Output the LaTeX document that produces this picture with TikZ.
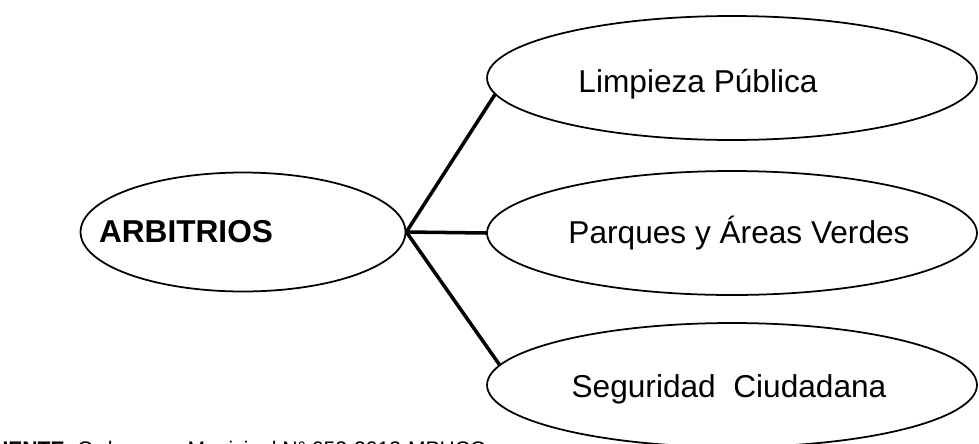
\documentclass[tikz,border=0pt]{standalone}
\usepackage{fontspec}
\setmainfont{Liberation Sans}
\usepackage{tikz}
\usetikzlibrary{shapes.geometric, positioning}
\tikzstyle{oval} = [ellipse, 
draw=black, 
line width=1pt, 
inner sep=0pt, 
minimum width=9.8cm, 
minimum height=2.48cm]
\tikzstyle{rama} = [line width=2pt, line cap=round]
\tikzstyle{texto} = [font=\fontsize{18}{22}\selectfont, inner sep=0pt, anchor=base]

\begin{document}
\begin{tikzpicture}[x=0.02cm, y=-0.02cm]
	% marco en pixeles del original
	\useasboundingbox (0,0) rectangle (979,443);
	\clip (0,0) rectangle (979,443);
	
	% ---- 1. Nodo central ----
	\node[oval, minimum width=6.5cm, minimum height=2.38cm] (arb) at (243,232) {};
	\node[texto, font=\fontsize{18}{22}\selectfont\bfseries] (tarb) at (186,242) {ARBITRIOS};
	
	% ---- 2. Ramas ----
	\node[oval] (limp) at (732,78) {};
	\node[oval] (parq) at (732,233) {};
	\node[oval] (seg) at (732,385) {};
	
	\node[texto] (tlimp) at (698,92) {Limpieza Pública};
	\node[texto] (tparq) at (739,243) {Parques y Áreas Verdes};
	\node[texto] (tseg) at (729,397) {Seguridad\ \ Ciudadana};
	
	% conectores
	\draw[rama] (arb.east) -- (limp.184);
	\draw[rama] (arb.east) -- (parq.west);
	\draw[rama] (arb.east) -- (seg.175);
	
	% ---- 3. Fuente (cortada abajo) ----
	\node[anchor=base east, inner sep=0pt, font=\fontsize{12}{14}\selectfont] (fuente) at (487,456)
	{\textbf{FUENTE:} Ordenanza Municipal N° 052-2013-MPHCO};
	
\end{tikzpicture}
\end{document}
